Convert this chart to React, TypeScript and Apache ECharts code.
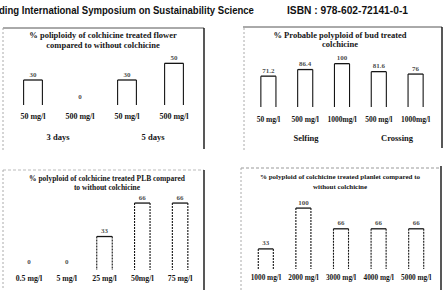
import React, { useEffect, useRef } from "react";
import * as echarts from "echarts";

// Panel A: flower treatment
const flowerCats = ["50 mg/l", "500 mg/l", "50 mg/l", "500 mg/l"];
const flowerVals = [30, 0, 30, 50];
const flowerLabels = ["30", "0", "30", "50"];
const flowerGroups = ["3 days", "5 days"];

// Panel B: bud treatment
const budCats = ["50 mg/l", "500 mg/l", "1000mg/l", "500 mg/l", "1000mg/l"];
const budVals = [71.2, 86.4, 100, 81.6, 76];
const budLabels = ["71.2", "86.4", "100", "81.6", "76"];
const budGroups = ["Selfing", "Crossing"];

// Panel C: PLB treatment
const plbCats = ["0.5 mg/l", "5 mg/l", "25 mg/l", "50mg/l", "75 mg/l"];
const plbVals = [0, 0, 33, 66, 66];
const plbLabels = ["0", "0", "33", "66", "66"];

// Panel D: planlet treatment
const planletCats = ["1000 mg/l", "2000 mg/l", "3000 mg/l", "4000 mg/l", "5000 mg/l"];
const planletVals = [33, 100, 66, 66, 66];
const planletLabels = ["33", "100", "66", "66", "66"];

const SERIF = "'Liberation Serif', 'Times New Roman', serif";
const SANS = "'Liberation Sans', Arial, sans-serif";
const INK = "#151515";

// Open-bottomed bar outline: top edge plus two sides down to the baseline
function openBar(ratio: number, sideDash: number[] | null) {
  return (_params: any, api: any) => {
    const idx = api.value(0);
    const val = api.value(1);
    if (!(val > 0)) return { type: "group", children: [] };
    const top = api.coord([idx, val]);
    const base = api.coord([idx, 0]);
    const w = api.size([1, 0])[0] * ratio;
    const x0 = top[0] - w / 2;
    const x1 = top[0] + w / 2;
    return {
      type: "group",
      children: [
        {
          type: "line",
          shape: { x1: x0, y1: top[1], x2: x1, y2: top[1] },
          style: { stroke: INK, lineWidth: 1.3 },
        },
        {
          type: "line",
          shape: { x1: x0, y1: top[1], x2: x0, y2: base[1] },
          style: { stroke: INK, lineWidth: 1.1, lineDash: sideDash || undefined },
        },
        {
          type: "line",
          shape: { x1: x1, y1: top[1], x2: x1, y2: base[1] },
          style: { stroke: INK, lineWidth: 1.1, lineDash: sideDash || undefined },
        },
      ],
    };
  };
}

function pairs(vals: number[]) {
  return vals.map((v, i) => [i, v]);
}

export default function App() {
  const ref = useRef<HTMLDivElement>(null);

  useEffect(() => {
    if (!ref.current) return;
    const chart = echarts.init(ref.current, null, { renderer: "svg" });

    const grids = [
      { left: 9.5, top: 55, width: 188, height: 50 },
      { left: 250, top: 55, width: 184, height: 52 },
      { left: 10, top: 199, width: 189, height: 71 },
      { left: 247, top: 202, width: 188, height: 67 },
    ];
    const catSets = [flowerCats, budCats, plbCats, planletCats];
    const maxes = [60, 120, 70, 110];
    const margins = [7, 8, 4, 5];
    const labelSizes = [8, 7.5, 7.8, 7.3];

    const xAxis = catSets.map((cats, i) => ({
      type: "category" as const,
      gridIndex: i,
      data: cats,
      axisLine: { show: false },
      axisTick: { show: false },
      axisLabel: {
        margin: margins[i],
        interval: 0,
        fontFamily: SERIF,
        fontWeight: "bold" as const,
        fontSize: labelSizes[i],
        color: INK,
      },
    }));
    const yAxis = maxes.map((m, i) => ({
      type: "value" as const,
      gridIndex: i,
      min: 0,
      max: m,
      show: false,
      splitLine: { show: false },
    }));

    const panels = [
      { vals: flowerVals, labels: flowerLabels, ratio: 0.4, dash: null },
      { vals: budVals, labels: budLabels, ratio: 0.41, dash: null },
      { vals: plbVals, labels: plbLabels, ratio: 0.41, dash: [2, 1] },
      { vals: planletVals, labels: planletLabels, ratio: 0.4, dash: [2, 1] },
    ];

    const barSeries = panels.map((s, i) => ({
      type: "custom" as const,
      xAxisIndex: i,
      yAxisIndex: i,
      data: pairs(s.vals),
      encode: { x: 0, y: 1 },
      itemStyle: { color: INK },
      renderItem: openBar(s.ratio, s.dash),
    }));

    const labelSeries = panels.map((s, i) => ({
      type: "scatter" as const,
      xAxisIndex: i,
      yAxisIndex: i,
      symbolSize: 0,
      itemStyle: { color: "rgba(0,0,0,0)" },
      data: s.vals.map((v, k) => ({
        value: [k, v],
        label: { distance: v > 0 ? 2 : 5 },
      })),
      label: {
        show: true,
        position: "top" as const,
        color: INK,
        fontFamily: SERIF,
        fontWeight: "bold" as const,
        fontSize: 7,
        formatter: (p: any) => s.labels[p.dataIndex],
      },
      emphasis: { disabled: true },
    }));

    const titleStyle = (size: number, lh: number) => ({
      fontFamily: SERIF,
      fontWeight: "bold" as const,
      fontSize: size,
      lineHeight: lh,
      color: INK,
    });

    const groupText = (text: string, x: number, y: number) => ({
      type: "text",
      x,
      y,
      style: {
        text,
        align: "center",
        verticalAlign: "middle",
        font: `bold 8.5px ${SERIF}`,
        fill: INK,
      },
    });

    const line = (x1: number, y1: number, x2: number, y2: number, stroke: string, lw: number, dash?: number[]) => ({
      type: "line",
      shape: { x1, y1, x2, y2 },
      style: { stroke, lineWidth: lw, lineDash: dash },
      silent: true,
    });

    chart.setOption({
      animation: false,
      backgroundColor: "#ffffff",
      title: [
        {
          text: "% poliploidy of colchicine treated flower\ncompared to without colchicine",
          left: 103, top: 30, padding: 0, textAlign: "center", textStyle: titleStyle(8.5, 10),
        },
        {
          text: "% Probable polyploid of bud treated\ncolchicine",
          left: 340, top: 30, padding: 0, textAlign: "center", textStyle: titleStyle(8.5, 9.5),
        },
        {
          text: "% polyploid of colchicine treated PLB compared\nto without colchicine",
          left: 107, top: 174, padding: 0, textAlign: "center", textStyle: titleStyle(7.5, 9),
        },
        {
          text: "% polyploid of colchicine treated planlet compared to\nwithout colchicine",
          left: 340, top: 172, padding: 0, textAlign: "center", textStyle: titleStyle(7, 10),
        },
      ],
      grid: grids,
      xAxis,
      yAxis,
      series: [...barSeries, ...labelSeries],
      graphic: [
        {
          type: "text", x: -1, y: 10, scaleX: 0.87,
          style: {
            text: "ding International Symposium on Sustainability Science",
            verticalAlign: "middle",
            font: `bold 11px ${SANS}`,
            fill: "#111",
          },
        },
        {
          type: "text", x: 287, y: 10, scaleX: 0.93,
          style: {
            text: "ISBN : 978-602-72141-0-1",
            verticalAlign: "middle",
            font: `bold 11px ${SANS}`,
            fill: "#111",
          },
        },
        groupText(flowerGroups[0], 58, 137),
        groupText(flowerGroups[1], 153, 137),
        groupText(budGroups[0], 306, 138),
        groupText(budGroups[1], 397, 138),
        // panel frames
        line(3, 28, 204, 28, "#555", 1),
        line(204, 28, 204, 149, "#111", 1.4),
        line(3, 28, 3, 150, "#aaa", 1, [2, 2]),
        line(243, 27, 442, 27, "#555", 1),
        line(442, 27, 442, 148, "#111", 1.4),
        line(244, 28, 244, 150, "#aaa", 1, [2, 2]),
        line(3, 170, 204, 170, "#bbb", 1, [3, 2]),
        line(204, 170, 204, 290, "#111", 1.4),
        line(3, 170, 3, 290, "#aaa", 1, [2, 2]),
        line(241, 168, 440, 168, "#999", 1, [3, 2]),
        line(441, 166, 441, 290, "#111", 1.4),
        line(241, 168, 241, 290, "#aaa", 1, [2, 2]),
      ],
    });

    return () => chart.dispose();
  }, []);

  return (
    <div
      ref={ref}
      style={{ position: "fixed", left: 0, top: 0, width: 447, height: 295, background: "#fff" }}
    />
  );
}
